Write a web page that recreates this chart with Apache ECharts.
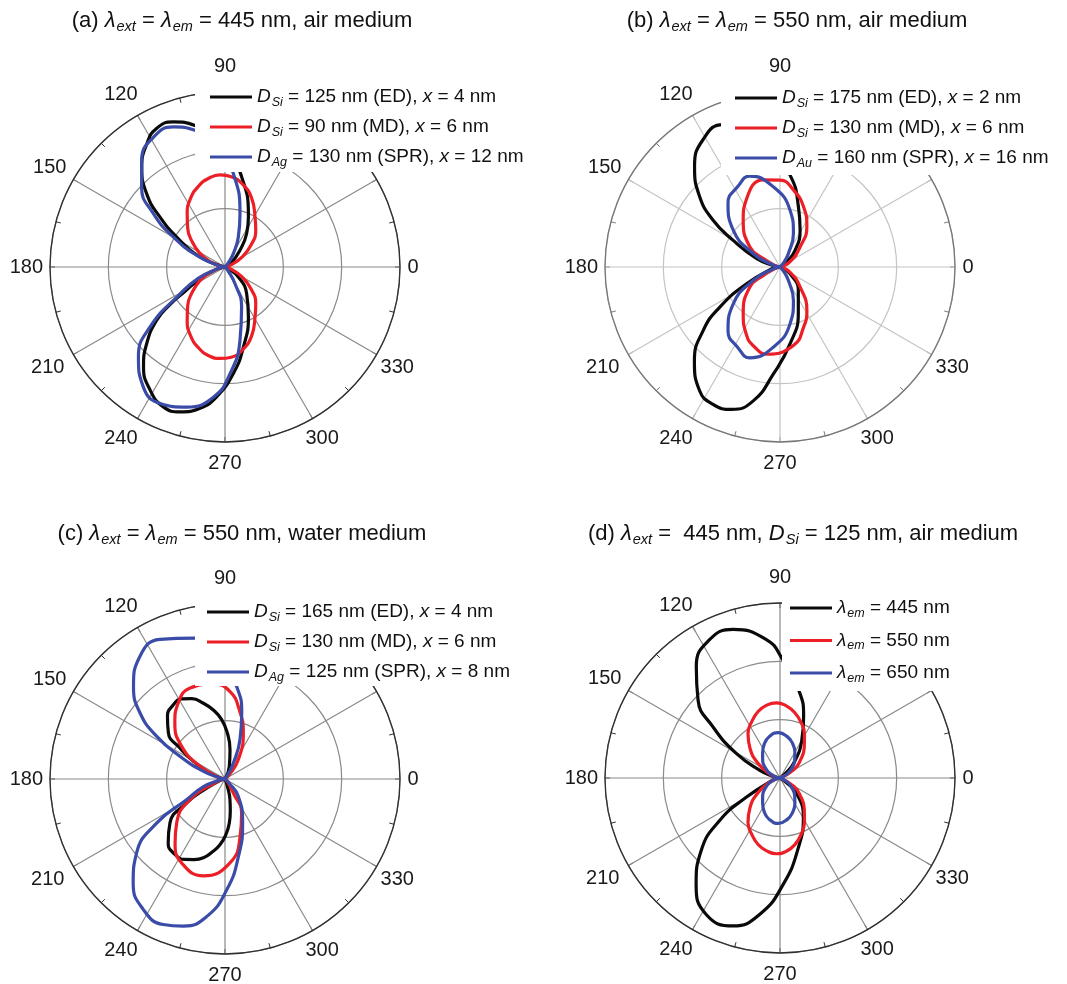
<!DOCTYPE html>
<html><head><meta charset="utf-8">
<script src="https://cdn.jsdelivr.net/npm/echarts@6/dist/echarts.min.js"></script>
<style>html,body{margin:0;padding:0;background:#fff;}#c{width:1067px;height:984px;}</style>
</head><body><div id="c"></div>
<script>
// ---------- data (angle in degrees, radius in arbitrary units) ----------
const angleTickValues = [0,30,60,90,120,150,180,210,240,270,300,330];
const ringValues = [1,2,3];

// (a) air, 445 nm
const aEdAng  = [30,35,48,57,65,79.5,90,102,109.6,116.3,122.4,129.8,136.9,142.4,149.4,158.2,164,172,180,188,196,205,211.3,214.4,218,224.4,230.8,238.7,246.2,252.8,260,266.3,274.5,282.9,295,309,323,335,340];
const aEdR    = [0,0.14,0.38,0.68,0.95,1.57,2.05,2.48,2.64,2.65,2.50,2.23,1.84,1.41,0.90,0.46,0.15,0.02,0,0.02,0.15,0.47,0.80,1.15,1.49,1.88,2.21,2.47,2.62,2.60,2.46,2.23,1.83,1.41,0.95,0.59,0.29,0.05,0];
const aMdAng  = [10,20,30,40,50,59,69,78,86,93,100,108,117,125,134,142,151,160,170,180,190,200,209,218,226,235,243,252,260,267,274,282,291,301,310,320,330,340,350];
const aMdR    = [0,0.12,0.33,0.58,0.82,1.0,1.27,1.45,1.55,1.58,1.55,1.46,1.31,1.13,0.92,0.72,0.50,0.28,0.08,0,0.08,0.28,0.50,0.72,0.92,1.13,1.31,1.46,1.55,1.57,1.55,1.45,1.27,1.0,0.82,0.58,0.33,0.12,0];
const aSprAng = [44,50,58,66,74.3,84.9,93,102.4,110.3,118.9,128,136.2,143.3,149.9,157.6,166,173,180,187,194,203,211,218.7,226.1,235.8,244.6,254.7,264.9,272.7,281.6,292.6,301,310,316];
const aSprR   = [0,0.08,0.27,0.56,0.95,1.61,2.05,2.40,2.56,2.54,2.32,1.98,1.53,1.02,0.53,0.15,0.03,0,0.03,0.15,0.5,0.9,1.65,2.14,2.49,2.59,2.49,2.24,1.83,1.28,0.74,0.33,0.08,0];

// (b) air, 550 nm
const bEdAng  = [30,37,48,61.4,73,83.2,97,111.8,121.2,130.4,138.8,145,150.3,160,168,174,180,186,193,206.6,213.7,219.6,227.7,237,244,251.2,258.7,266.4,277.4,291.4,308,326,335,342];
const bEdR    = [0,0.14,0.39,0.72,1.08,1.56,2.25,2.63,2.55,2.26,1.83,1.40,0.93,0.43,0.12,0.02,0,0.02,0.15,0.64,1.24,1.71,2.18,2.53,2.62,2.58,2.34,1.84,1.33,0.86,0.51,0.21,0.05,0];
const bMdAng  = [15,27,45,56.3,68.7,80.1,90,100.9,116.6,128.2,146.3,153.4,165,172,180,188,195,206.6,213.7,231.8,243.4,250.8,262,280,291.3,301.6,315,333,345];
const bMdR    = [0,0.19,0.49,0.83,1.11,1.34,1.49,1.52,1.29,1.02,0.62,0.32,0.08,0.01,0,0.01,0.08,0.32,0.62,1.02,1.29,1.42,1.51,1.36,1.11,0.88,0.49,0.19,0];
const bSprAng = [45,50,58,68.2,80,94.8,108.4,117.5,129.2,141.8,153.4,165,172,180,188,195,206.6,218.2,230.8,242.5,251.6,265.2,280,291.8,302,310,315];
const bSprR   = [0,0.1,0.27,0.62,0.99,1.38,1.64,1.56,1.41,1.02,0.51,0.12,0.02,0,0.02,0.12,0.51,1.02,1.41,1.56,1.64,1.38,0.99,0.62,0.27,0.1,0];

// (c) water, 550 nm
const cEdAng  = [66,71.1,80.3,87.1,93.2,99.6,105.9,112.5,118.3,124.8,132.5,140.9,145.4,150.8,158.2,168,180,192,206,212,218.7,228.5,236,243.6,249,254.7,260,265.6,271,275.6,279.5,283.6,288,292];
const cEdR    = [0,0.23,0.51,0.79,1.02,1.20,1.35,1.49,1.56,1.55,1.46,1.25,0.94,0.62,0.28,0.07,0,0.08,0.35,0.78,1.21,1.47,1.55,1.54,1.48,1.40,1.27,1.13,0.95,0.76,0.55,0.36,0.14,0];
const cMdAng  = [40,45,55.4,68.3,78.3,86.7,97,111,121.6,131.8,143,153.1,165,172,180,188,195,210.6,222.3,232,242.7,257.4,273.4,284.7,296,300.8,310,318];
const cMdR    = [0,0.1,0.40,0.85,1.21,1.50,1.64,1.67,1.53,1.29,0.93,0.48,0.12,0.02,0,0.02,0.12,0.70,1.12,1.39,1.62,1.70,1.44,1.02,0.65,0.28,0.08,0];
const cSprAng = [54,58,62.5,69.1,75.8,82.3,92,102,115,124.7,134.7,142.2,148,153.3,160.5,170,175,180,185,190,199.5,208.3,212.8,220,228.6,238,247,254.2,262.4,270.9,279.8,291.9,307.6,315,320];
const cSprR   = [0,0.1,0.31,0.72,1.17,1.57,2.1,2.47,2.64,2.56,2.23,1.84,1.38,0.86,0.39,0.08,0.02,0,0.02,0.08,0.39,0.75,1.39,1.98,2.38,2.64,2.71,2.62,2.38,1.90,1.35,0.81,0.37,0.1,0];

// (d) air, excitation 445 nm, D_Si = 125 nm
const d445Ang = [32,40,47,60.1,69,77.5,89.2,95.5,107.5,117,126.9,136.4,142.6,150.7,159,168,174,180,186,195,209.7,215.2,222.7,231.7,241.6,252.4,261.6,271.8,284.9,300.9,316.8,325,332];
const d445R   = [0,0.1,0.34,0.75,1.13,1.52,2.06,2.38,2.67,2.66,2.39,1.94,1.45,0.86,0.37,0.1,0.02,0,0.02,0.12,0.66,1.27,1.84,2.32,2.66,2.66,2.36,1.82,1.23,0.78,0.39,0.12,0];
const d550Ang = [20,31,41.5,51.6,60.8,69.3,77.4,85,92.7,100.3,108.2,116.6,125.7,135.5,146,158,170,180,190,202,214,224.5,234.3,243.4,251.8,259.7,267.3,275,282.6,290.7,299.2,308.4,318.5,329,340];
const d550R   = [0,0.28,0.47,0.67,0.86,1.02,1.15,1.24,1.29,1.27,1.20,1.08,0.94,0.72,0.46,0.20,0.05,0,0.05,0.20,0.46,0.72,0.94,1.08,1.20,1.27,1.30,1.26,1.17,1.03,0.86,0.67,0.47,0.28,0];
const d650Ang = [20,30,40,50,60,70,80,92,105,115,125,135,145,157,168,180,192,203,215,225,235,245,255,268,280,290,300,310,320,330,340];
const d650R   = [0,0.15,0.27,0.39,0.51,0.63,0.72,0.78,0.73,0.64,0.52,0.42,0.31,0.19,0.08,0,0.08,0.19,0.31,0.42,0.52,0.64,0.73,0.78,0.72,0.63,0.51,0.39,0.27,0.15,0];

// ---------- texts ----------
const titles = [
  '(a) {it|λ}{sub|ext} = {it|λ}{sub|em} = 445 nm, air medium',
  '(b) {it|λ}{sub|ext} = {it|λ}{sub|em} = 550 nm, air medium',
  '(c) {it|λ}{sub|ext} = {it|λ}{sub|em} = 550 nm, water medium',
  '(d) {it|λ}{sub|ext} =  445 nm, {it|D}{sub|Si} = 125 nm, air medium'
];
const legendLabels = {
  'a1': '{it|D}{sub|Si} = 125 nm (ED), {it|x} = 4 nm',
  'a2': '{it|D}{sub|Si} = 90 nm (MD), {it|x} = 6 nm',
  'a3': '{it|D}{sub|Ag} = 130 nm (SPR), {it|x} = 12 nm',
  'b1': '{it|D}{sub|Si} = 175 nm (ED), {it|x} = 2 nm',
  'b2': '{it|D}{sub|Si} = 130 nm (MD), {it|x} = 6 nm',
  'b3': '{it|D}{sub|Au} = 160 nm (SPR), {it|x} = 16 nm',
  'c1': '{it|D}{sub|Si} = 165 nm (ED), {it|x} = 4 nm',
  'c2': '{it|D}{sub|Si} = 130 nm (MD), {it|x} = 6 nm',
  'c3': '{it|D}{sub|Ag} = 125 nm (SPR), {it|x} = 8 nm',
  'd1': '{it|λ}{sub|em} = 445 nm',
  'd2': '{it|λ}{sub|em} = 550 nm',
  'd3': '{it|λ}{sub|em} = 650 nm'
};

// ---------- layout / style ----------
const FONT = 'Liberation Sans, Arial, sans-serif';
const BLACK = '#0a0a0a', RED = '#ec1f26', BLUE = '#3a4ca8';
const panels = [
  {center:[225,267], grid:'#8a8a8a', outer:'#303030', title:[242,8], legend:{left:195, top:78, pad:[7,12,3,15], gap:6}},
  {center:[780,267], grid:'#c4c4c4', outer:'#777777', title:[797,8], legend:{left:721, top:79, pad:[7,12,5,14], gap:6}},
  {center:[225,779], grid:'#8a8a8a', outer:'#303030', title:[242,521], legend:{left:195, top:590, pad:[10,12,2,12], gap:6}},
  {center:[780,778], grid:'#8a8a8a', outer:'#303030', title:[803,521], legend:{left:782, top:588, pad:[8,12,6,8], gap:8.5}}
];
const seriesDefs = [
  ['a1',aEdAng,aEdR,BLACK,0],['a2',aMdAng,aMdR,RED,0],['a3',aSprAng,aSprR,BLUE,0],
  ['b1',bEdAng,bEdR,BLACK,1],['b2',bMdAng,bMdR,RED,1],['b3',bSprAng,bSprR,BLUE,1],
  ['c1',cEdAng,cEdR,BLACK,2],['c2',cMdAng,cMdR,RED,2],['c3',cSprAng,cSprR,BLUE,2],
  ['d1',d445Ang,d445R,BLACK,3],['d2',d550Ang,d550R,RED,3],['d3',d650Ang,d650R,BLUE,3]
];

const richLegend = {
  it: {fontStyle:'italic', fontSize:19, lineHeight:22, fontFamily:FONT, color:'#111'},
  sub:{fontStyle:'italic', fontSize:12.5, lineHeight:13, padding:[11,0,0,1], fontFamily:FONT, color:'#111'}
};
const richTitle = {
  it: {fontStyle:'italic', fontSize:22, lineHeight:25, fontFamily:FONT, color:'#111'},
  sub:{fontStyle:'italic', fontSize:14.5, lineHeight:15, padding:[13,0,0,1], fontFamily:FONT, color:'#111'}
};
// per-label offsets so the angle labels sit where the reference puts them
const angleLabelPad = {
  0:[0,0,0,7.5], 90:[0,0,32,0], 120:[0,0,21,0], 150:[0,7,4.5,0], 180:[0,7,0,0],
  210:[5.5,9,0,0], 240:[19,0,0,0], 270:[23,0,0,0], 300:[19,0,0,-7], 330:[5.5,0,0,4]
};
const richAngle = {};
Object.keys(angleLabelPad).forEach(k=>{
  richAngle['l'+k] = {fontSize:20, lineHeight:20, fontFamily:FONT, color:'#1a1a1a', padding:angleLabelPad[k]};
});

const option = {
  animation:false,
  backgroundColor:'#fff',
  title: panels.map((p,i)=>({
    text: titles[i], left:p.title[0], top:p.title[1], textAlign:'center', padding:0,
    textStyle:{fontSize:22, fontWeight:'normal', color:'#111', fontFamily:FONT, lineHeight:25, rich:richTitle}
  })),
  polar: panels.map(p=>({center:p.center, radius:175})),
  angleAxis: panels.map((p,i)=>({
    polarIndex:i, type:'value', min:0, max:360, interval:30, startAngle:0, clockwise:false,
    axisLine:{show:true, lineStyle:{color:p.outer, width:1.3}},
    axisTick:{show:true, inside:true, length:5, lineStyle:{color:p.outer, width:1}},
    minorTick:{show:true, splitNumber:2, length:5, lineStyle:{color:p.outer, width:1}},
    splitLine:{show:true, lineStyle:{color:p.grid, width:1.2}},
    axisLabel:{show:true, margin:0, fontSize:20, color:'#1a1a1a', fontFamily:FONT,
      formatter:function(v){
        if (v===360 || v===30 || v===60) return '';
        return '{l' + v + '|' + v + '}';
      },
      rich:richAngle
    }
  })),
  radiusAxis: panels.map((p,i)=>({
    polarIndex:i, type:'value', min:0, max:3, interval:1,
    axisLine:{show:false}, axisTick:{show:false}, axisLabel:{show:false},
    splitLine:{show:true, lineStyle:{color:p.grid, width:1.2}}
  })),
  legend: panels.map((p,i)=>{
    const k = 'abcd'[i];
    return {
      orient:'vertical', left:p.legend.left, top:p.legend.top, padding:p.legend.pad,
      itemGap:p.legend.gap, itemWidth:42, itemHeight:3, icon:'rect', backgroundColor:'#fff',
      selectedMode:false, data:[k+'1',k+'2',k+'3'],
      formatter:function(n){return legendLabels[n];},
      textStyle:{fontSize:19, color:'#111', fontFamily:FONT, lineHeight:22, rich:richLegend}
    };
  }),
  series: seriesDefs.map(([name,ang,r,color,pi])=>({
    name:name, type:'line', coordinateSystem:'polar', polarIndex:pi,
    data: ang.map((a,j)=>[r[j], a]),
    symbol:'none', smooth:0.5, silent:true,
    lineStyle:{color:color, width:3.2}, itemStyle:{color:color}
  }))
};

const chart = echarts.init(document.getElementById('c'), null, {renderer:'canvas'});
chart.setOption(option);
</script></body></html>
